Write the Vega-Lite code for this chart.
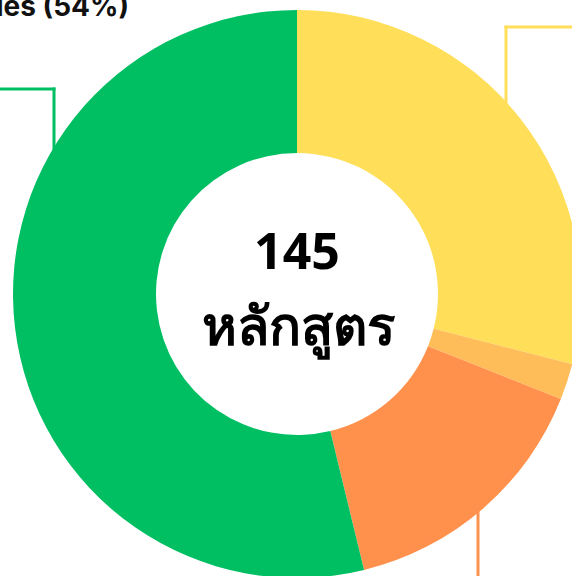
{
  "$schema": "https://vega.github.io/schema/vega-lite/v6.json",
  "width": 572,
  "height": 576,
  "autosize": {"type": "none"},
  "padding": 0,
  "background": "white",
  "config": {"view": {"stroke": null}},
  "datasets": {
    "slices": [
      {"category": "yellow", "idx": 1, "count": 42},
      {"category": "lightorange", "idx": 2, "count": 3},
      {"category": "orange", "idx": 3, "count": 22},
      {"category": "green", "idx": 4, "count": 78}
    ],
    "connectors": [
      {"category": "green", "xa": 0, "xb": 54, "ya": 89, "yb": 89},
      {"category": "green", "xa": 54, "xb": 54, "ya": 89, "yb": 160},
      {"category": "yellow", "xa": 506, "xb": 572, "ya": 27, "yb": 27},
      {"category": "yellow", "xa": 506, "xb": 506, "ya": 27, "yb": 120},
      {"category": "orange", "xa": 478, "xb": 478, "ya": 490, "yb": 576}
    ],
    "labels": [
      {"text": "145", "px": 297, "py": 269, "size": "a"},
      {"text": "หลักสูตร", "px": 298, "py": 345, "size": "b"}
    ],
    "side": [
      {"text": "les (54%)", "px": 129, "py": 16}
    ]
  },
  "layer": [
    {
      "data": {"name": "connectors"},
      "mark": {"type": "rule", "strokeWidth": 3, "strokeCap": "square"},
      "encoding": {
        "x": {"field": "xa", "type": "quantitative", "scale": {"domain": [0, 572], "nice": false, "zero": false}, "axis": null},
        "x2": {"field": "xb"},
        "y": {"field": "ya", "type": "quantitative", "scale": {"domain": [0, 576], "nice": false, "zero": false, "reverse": true}, "axis": null},
        "y2": {"field": "yb"},
        "color": {"field": "category", "type": "nominal", "legend": null,
          "scale": {"domain": ["yellow", "lightorange", "orange", "green"], "range": ["#FFDE59", "#FFBD59", "#FF914D", "#00BF63"]}}
      }
    },
    {
      "data": {"name": "slices"},
      "mark": {"type": "arc", "innerRadius": 141, "outerRadius": 284},
      "encoding": {
        "x": {"datum": 297, "type": "quantitative"},
        "y": {"datum": 294, "type": "quantitative"},
        "theta": {"field": "count", "type": "quantitative", "stack": true},
        "order": {"field": "idx", "type": "quantitative"},
        "color": {"field": "category", "type": "nominal", "legend": null}
      }
    },
    {
      "data": {"name": "labels"},
      "mark": {"type": "text", "align": "center", "baseline": "alphabetic", "fontWeight": "bold", "font": "Noto Sans", "color": "#000000"},
      "encoding": {
        "x": {"field": "px", "type": "quantitative"},
        "y": {"field": "py", "type": "quantitative"},
        "text": {"field": "text"},
        "size": {"field": "size", "type": "nominal", "legend": null, "scale": {"domain": ["a", "b"], "range": [50, 53]}}
      }
    },
    {
      "data": {"name": "side"},
      "mark": {"type": "text", "align": "right", "baseline": "alphabetic", "fontSize": 28, "fontWeight": "bold", "font": "Inter", "color": "#111111"},
      "encoding": {
        "x": {"field": "px", "type": "quantitative"},
        "y": {"field": "py", "type": "quantitative"},
        "text": {"field": "text"}
      }
    }
  ]
}
